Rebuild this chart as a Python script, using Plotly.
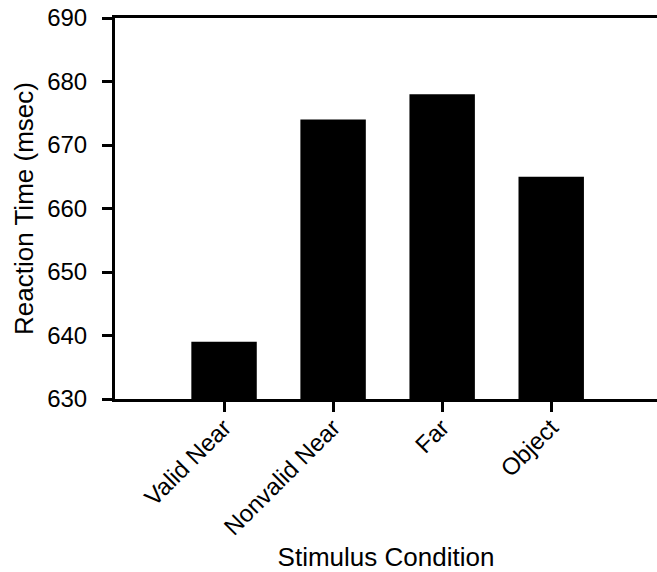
import plotly.graph_objects as go

categories = ["Valid Near", "Nonvalid Near", "Far", "Object"]
reaction_times = [639, 674, 678, 665]
y_ticks = [630, 640, 650, 660, 670, 680, 690]

fig = go.Figure(go.Bar(
    x=categories, y=reaction_times,
    marker=dict(color="black", line=dict(color="black", width=0)),
    width=0.6,
))

tick_font = dict(family="Liberation Sans, Arial, sans-serif", size=24, color="black")
title_font = dict(family="Liberation Sans, Arial, sans-serif", size=26, color="black")

fig.update_layout(
    width=657, height=572,
    margin=dict(l=115, r=0, t=18, b=173, autoexpand=False),
    paper_bgcolor="white", plot_bgcolor="white",
    font=tick_font, showlegend=False,
)
fig.update_xaxes(
    type="category", range=[-1, 3.97],
    showline=True, linecolor="black", linewidth=3, mirror=True,
    ticks="outside", ticklen=10, tickwidth=3, tickcolor="black",
    tickangle=-45, ticklabelstandoff=-8, ticklabeloverflow="allow",
    showgrid=False, zeroline=False, tickfont=tick_font,
    title=dict(text="Stimulus Condition", font=title_font, standoff=26),
)
fig.update_yaxes(
    range=[630, 690], tickvals=y_ticks,
    showline=True, linecolor="black", linewidth=3,
    ticks="outside", ticklen=10, tickwidth=3, tickcolor="black",
    ticklabelstandoff=10, ticklabeloverflow="allow", tickfont=tick_font,
    showgrid=False, zeroline=False,
    title=dict(text="Reaction Time (msec)", font=title_font, standoff=7),
)

fig.write_html("out.html", config={"displayModeBar": False},
               post_script="document.body.style.margin='0';")
